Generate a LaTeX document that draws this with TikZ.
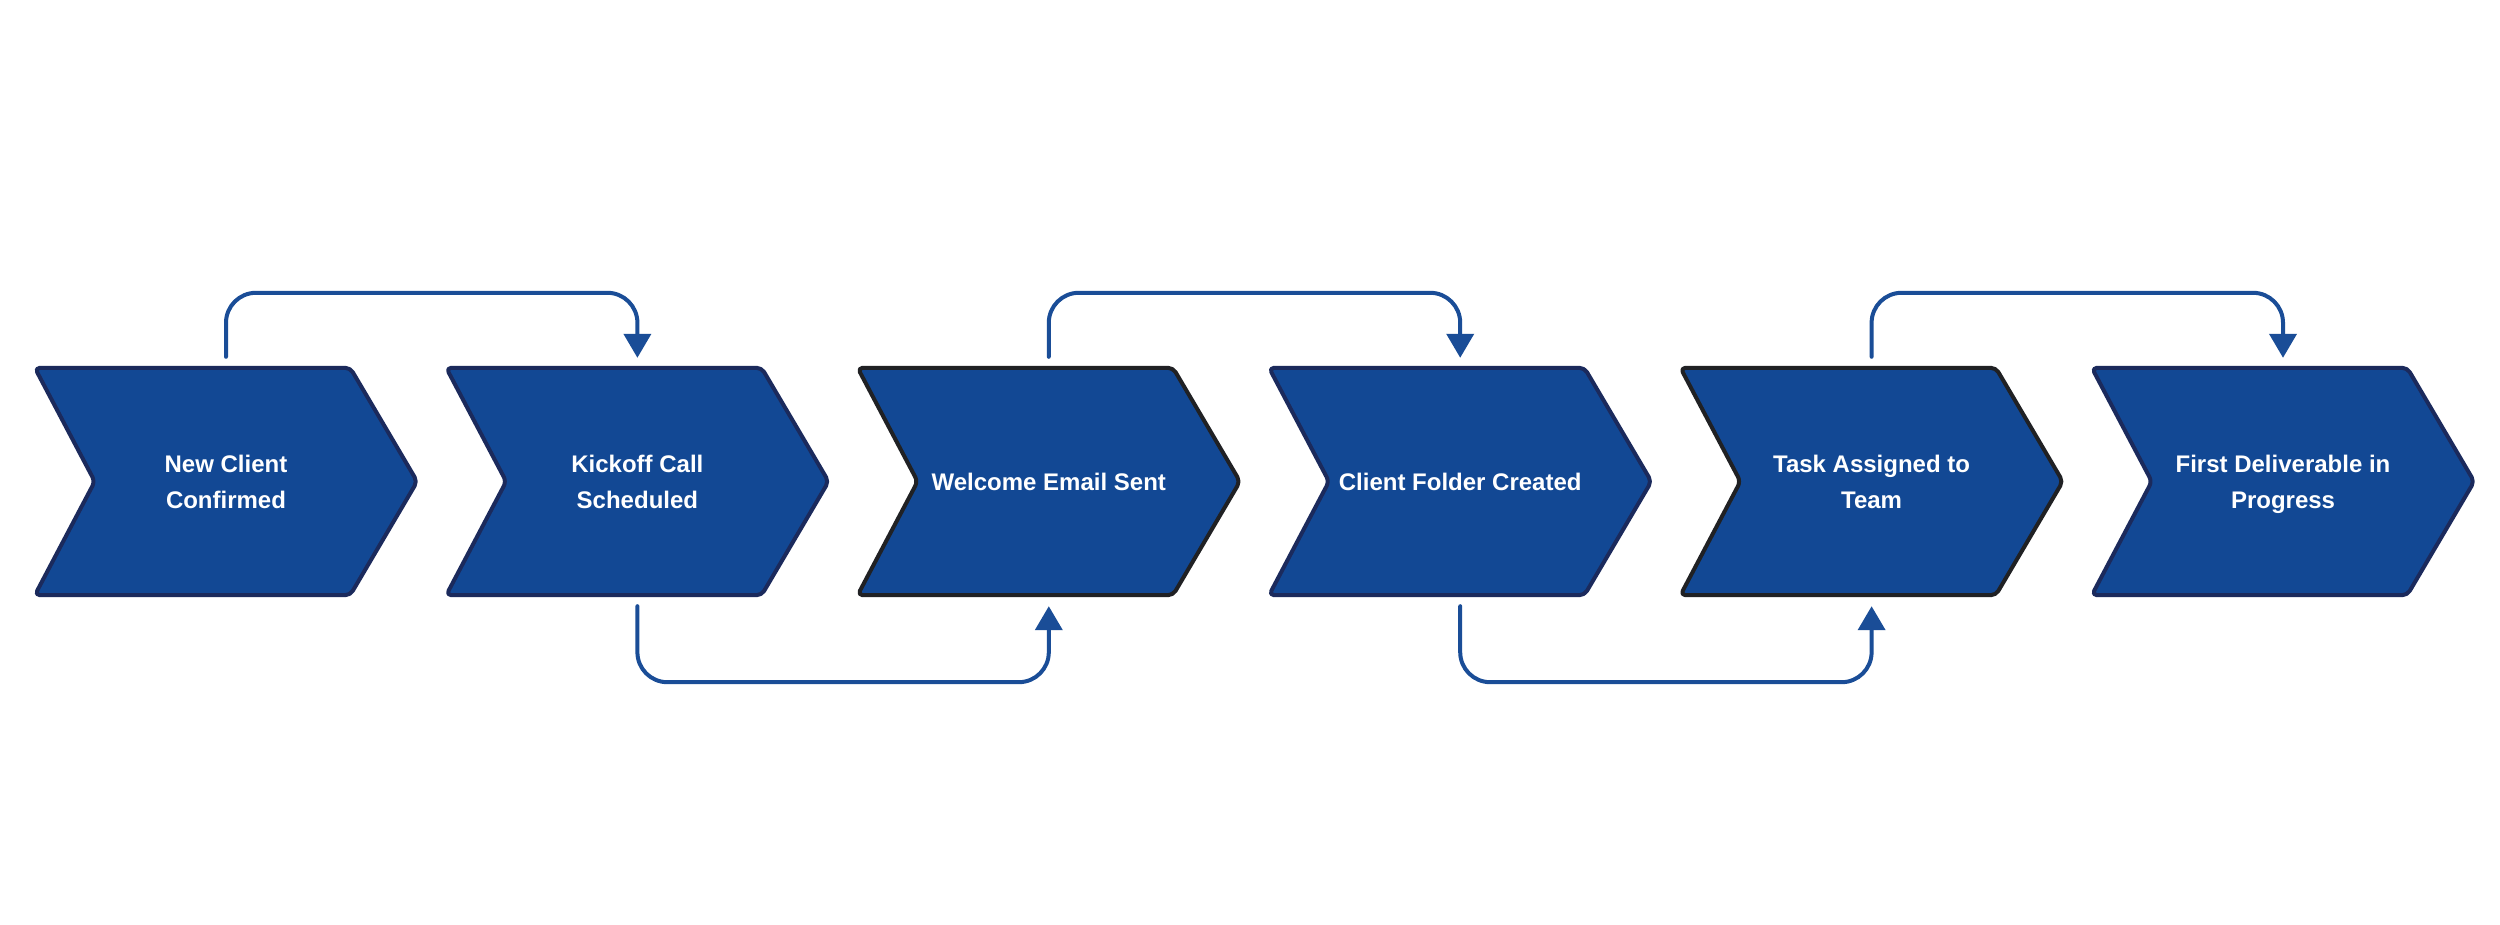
\documentclass[tikz,border=0pt]{standalone}
\usepackage{fontspec}
\setmainfont{Liberation Sans}
\usetikzlibrary{arrows.meta,backgrounds}
\definecolor{boxfill}{HTML}{124894}
\definecolor{boxedge}{HTML}{1B2A5C}
\definecolor{boxedgedark}{HTML}{202124}
\definecolor{conncol}{HTML}{1A4D97}
\tikzset{
  stepnode/.style={minimum width=382pt, minimum height=227pt, inner sep=0pt,
    align=center, text=white, font=\bfseries\fontsize{24pt}{36pt}\selectfont},
  chev/.style={fill=boxfill, draw=boxedge, line width=4pt, rounded corners=5pt, line join=round},
  chevdark/.style={chev, draw=boxedgedark},
  conn/.style={draw=conncol, line width=4pt, rounded corners=30pt, line cap=round,
    -{Triangle[width=27pt,length=24pt]}},
}
\newcommand{\chevron}[2]{%
  \draw[#2] (#1.north west) -- ([xshift=-67pt]#1.north east) -- (#1.east)
    -- ([xshift=-67pt]#1.south east) -- (#1.south west) -- ([xshift=60pt]#1.west) -- cycle;}
\begin{document}
\begin{tikzpicture}[x=1pt,y=-1pt]
\useasboundingbox (0,0) rectangle (2500,925);
\node[stepnode] (s1) at (226,481.5) {New Client\\Confirmed};
\node[stepnode] (s2) at (637.4,481.5) {Kickoff Call\\Scheduled};
\node[stepnode] (s3) at (1048.8,481.5) {Welcome Email Sent};
\node[stepnode] (s4) at (1460.2,481.5) {Client Folder Created};
\node[stepnode] (s5) at (1871.6,481.5) {Task Assigned to\\Team};
\node[stepnode] (s6) at (2283,481.5) {First Deliverable in\\Pro\smash{g}ress};
\begin{scope}[on background layer]
  \fill[white] (0,0) rectangle (2500,925);
  \chevron{s1}{chev}
  \chevron{s2}{chev}
  \chevron{s3}{chevdark}
  \chevron{s4}{chev}
  \chevron{s5}{chevdark}
  \chevron{s6}{chev}
\end{scope}
\draw[conn] ([yshift=11pt]s1.north) -- ++(0,-64) -| ([yshift=10pt]s2.north);
\draw[conn] ([yshift=11pt]s3.north) -- ++(0,-64) -| ([yshift=10pt]s4.north);
\draw[conn] ([yshift=11pt]s5.north) -- ++(0,-64) -| ([yshift=10pt]s6.north);
\draw[conn] ([yshift=-11pt]s2.south) -- ++(0,76) -| ([yshift=-11pt]s3.south);
\draw[conn] ([yshift=-11pt]s4.south) -- ++(0,76) -| ([yshift=-11pt]s5.south);
\end{tikzpicture}
\end{document}
